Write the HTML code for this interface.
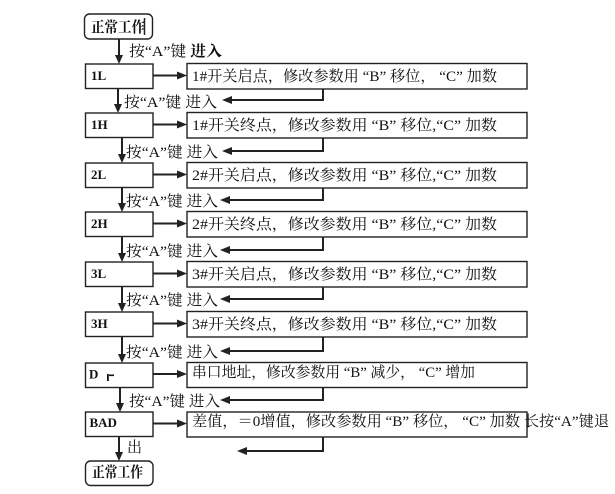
<!DOCTYPE html>
<html>
<head>
<meta charset="utf-8">
<style>
  html,body{margin:0;padding:0;background:#fff;}
  svg{display:block;}
  .cn{font-family:"Liberation Serif","Noto Serif CJK SC",serif;font-size:15px;fill:#111;}
  .lb{font-family:"Liberation Serif","Noto Serif CJK SC",serif;font-size:13px;font-weight:bold;fill:#111;}
  .bx{fill:#fff;stroke:#222;stroke-width:1.4;}
  .ln{stroke:#222;stroke-width:2;fill:none;}
  .ah{fill:#222;stroke:none;}
</style>
</head>
<body>
<svg width="615" height="494" viewBox="0 0 615 494" xmlns="http://www.w3.org/2000/svg">
  <!-- start box -->
  <rect class="bx" x="84.5" y="14" width="68" height="25" rx="5" ry="5"/>
  <text class="cn" x="91" y="32" textLength="54" lengthAdjust="spacingAndGlyphs" font-weight="bold">正常工作</text>
  <line x1="144.5" y1="18" x2="144.5" y2="35" stroke="#222" stroke-width="1.5"/>

  <!-- end box -->
  <rect class="bx" x="85.5" y="461" width="67.5" height="24.5" rx="5" ry="5"/>
  <text class="cn" x="92" y="477" textLength="51" lengthAdjust="spacingAndGlyphs" font-weight="bold">正常工作</text>

  <!-- left boxes -->
  <rect class="bx" x="85.5" y="64" width="67.5" height="24.5"/>
  <rect class="bx" x="85.5" y="113" width="67.5" height="24.5"/>
  <rect class="bx" x="85.5" y="163" width="67.5" height="24.5"/>
  <rect class="bx" x="85.5" y="212" width="67.5" height="24.5"/>
  <rect class="bx" x="85.5" y="262" width="67.5" height="24.5"/>
  <rect class="bx" x="85.5" y="312" width="67.5" height="24.5"/>
  <rect class="bx" x="85.5" y="363" width="67.5" height="24.5"/>
  <rect class="bx" x="85.5" y="412" width="67.5" height="24.5"/>

  <text class="lb" x="91" y="80">1L</text>
  <text class="lb" x="91" y="129">1H</text>
  <text class="lb" x="91" y="179">2L</text>
  <text class="lb" x="91" y="228">2H</text>
  <text class="lb" x="91" y="278">3L</text>
  <text class="lb" x="91" y="328">3H</text>
  <text class="lb" x="89" y="378.5">D</text>
  <rect x="107" y="374" width="1.8" height="7" fill="#111"/>
  <rect x="109" y="374.5" width="5" height="1.6" fill="#111"/>
  <text class="lb" x="89.5" y="427">BAD</text>

  <!-- right boxes -->
  <rect class="bx" x="187" y="63.5" width="340" height="25.5"/>
  <rect class="bx" x="187" y="112.5" width="340" height="25.5"/>
  <rect class="bx" x="187" y="162.5" width="340" height="25.5"/>
  <rect class="bx" x="187" y="211.5" width="340" height="25.5"/>
  <rect class="bx" x="187" y="261.5" width="340" height="25.5"/>
  <rect class="bx" x="187" y="311.5" width="340" height="25.5"/>
  <rect class="bx" x="187" y="362.5" width="340" height="25"/>
  <rect class="bx" x="187" y="412" width="340" height="25"/>

  <text class="cn" x="192" y="81" textLength="305" lengthAdjust="spacingAndGlyphs">1#开关启点，修改参数用 “B” 移位， “C” 加数</text>
  <text class="cn" x="192" y="130" textLength="305" lengthAdjust="spacingAndGlyphs">1#开关终点，修改参数用 “B” 移位,“C” 加数</text>
  <text class="cn" x="192" y="180" textLength="305" lengthAdjust="spacingAndGlyphs">2#开关启点，修改参数用 “B” 移位,“C” 加数</text>
  <text class="cn" x="192" y="229" textLength="305" lengthAdjust="spacingAndGlyphs">2#开关终点，修改参数用 “B” 移位,“C” 加数</text>
  <text class="cn" x="192" y="279" textLength="305" lengthAdjust="spacingAndGlyphs">3#开关启点，修改参数用 “B” 移位,“C” 加数</text>
  <text class="cn" x="192" y="329" textLength="305" lengthAdjust="spacingAndGlyphs">3#开关终点，修改参数用 “B” 移位,“C” 加数</text>
  <text class="cn" x="192" y="377" textLength="283" lengthAdjust="spacingAndGlyphs">串口地址，修改参数用 “B” 减少， “C” 增加</text>
  <text class="cn" x="192" y="426" textLength="417" lengthAdjust="spacingAndGlyphs">差值，＝0增值，修改参数用 “B” 移位， “C” 加数 长按“A”键退</text>

  <!-- right arrows -->
  <g>
    <line class="ln" x1="153" y1="75.5" x2="179" y2="75.5"/><polygon class="ah" points="177,71.5 177,79.5 187,75.5"/>
    <line class="ln" x1="153" y1="124.5" x2="179" y2="124.5"/><polygon class="ah" points="177,120.5 177,128.5 187,124.5"/>
    <line class="ln" x1="153" y1="174.5" x2="179" y2="174.5"/><polygon class="ah" points="177,170.5 177,178.5 187,174.5"/>
    <line class="ln" x1="153" y1="223.5" x2="179" y2="223.5"/><polygon class="ah" points="177,219.5 177,227.5 187,223.5"/>
    <line class="ln" x1="153" y1="273.5" x2="179" y2="273.5"/><polygon class="ah" points="177,269.5 177,277.5 187,273.5"/>
    <line class="ln" x1="153" y1="323.5" x2="179" y2="323.5"/><polygon class="ah" points="177,319.5 177,327.5 187,323.5"/>
    <line class="ln" x1="153" y1="374" x2="179" y2="374"/><polygon class="ah" points="177,370 177,378 187,374"/>
    <line class="ln" x1="153" y1="423.5" x2="179" y2="423.5"/><polygon class="ah" points="177,419.5 177,427.5 187,423.5"/>
  </g>

  <!-- return arrows -->
  <g>
    <polyline class="ln" points="323,89 323,100 230,100"/><polygon class="ah" points="232,96 232,104 222,100"/>
    <polyline class="ln" points="323,138 323,151 230,151"/><polygon class="ah" points="232,147 232,155 222,151"/>
    <polyline class="ln" points="323,188 323,200 228,200"/><polygon class="ah" points="230,196 230,204 220,200"/>
    <polyline class="ln" points="323,237 323,250 228,250"/><polygon class="ah" points="230,246 230,254 220,250"/>
    <polyline class="ln" points="323,287 323,299 228,299"/><polygon class="ah" points="230,295 230,303 220,299"/>
    <polyline class="ln" points="323,337 323,351 228,351"/><polygon class="ah" points="230,347 230,355 220,351"/>
    <polyline class="ln" points="323,387.5 323,400 228,400"/><polygon class="ah" points="230,396 230,404 220,400"/>
    <polyline class="ln" points="323,437 323,451 245,451"/><polygon class="ah" points="247,447 247,455 237,451"/>
  </g>

  <!-- down arrows -->
  <g>
    <line class="ln" x1="119" y1="39" x2="119" y2="56"/><polygon class="ah" points="115,55 123,55 119,64"/>
    <line class="ln" x1="118" y1="88.5" x2="118" y2="105"/><polygon class="ah" points="114,104 122,104 118,113"/>
    <line class="ln" x1="122" y1="137.5" x2="122" y2="155"/><polygon class="ah" points="118,154 126,154 122,163"/>
    <line class="ln" x1="122" y1="187.5" x2="122" y2="204"/><polygon class="ah" points="118,203 126,203 122,212"/>
    <line class="ln" x1="122" y1="236.5" x2="122" y2="254"/><polygon class="ah" points="118,253 126,253 122,262"/>
    <line class="ln" x1="122" y1="286.5" x2="122" y2="304"/><polygon class="ah" points="118,303 126,303 122,312"/>
    <line class="ln" x1="122" y1="336.5" x2="122" y2="355"/><polygon class="ah" points="118,354 126,354 122,363"/>
    <line class="ln" x1="120" y1="387.5" x2="120" y2="404"/><polygon class="ah" points="116,403 124,403 120,412"/>
    <line class="ln" x1="119" y1="436.5" x2="119" y2="453"/><polygon class="ah" points="115,452 123,452 119,461"/>
  </g>

  <!-- down labels -->
  <text class="cn" x="129" y="56" textLength="93" lengthAdjust="spacingAndGlyphs">按“A”键 <tspan font-weight="bold">进入</tspan></text>
  <text class="cn" x="124" y="107" textLength="93" lengthAdjust="spacingAndGlyphs">按“A”键 进入</text>
  <text class="cn" x="126" y="157" textLength="92" lengthAdjust="spacingAndGlyphs">按“A”键 进入</text>
  <text class="cn" x="126" y="206" textLength="92" lengthAdjust="spacingAndGlyphs">按“A”键 进入</text>
  <text class="cn" x="126" y="256" textLength="92" lengthAdjust="spacingAndGlyphs">按“A”键 进入</text>
  <text class="cn" x="126" y="305" textLength="92" lengthAdjust="spacingAndGlyphs">按“A”键 进入</text>
  <text class="cn" x="126" y="357" textLength="92" lengthAdjust="spacingAndGlyphs">按“A”键 进入</text>
  <text class="cn" x="129" y="406" textLength="91" lengthAdjust="spacingAndGlyphs">按“A”键 进入</text>
  <text class="cn" x="127" y="452">出</text>
</svg>
</body>
</html>
